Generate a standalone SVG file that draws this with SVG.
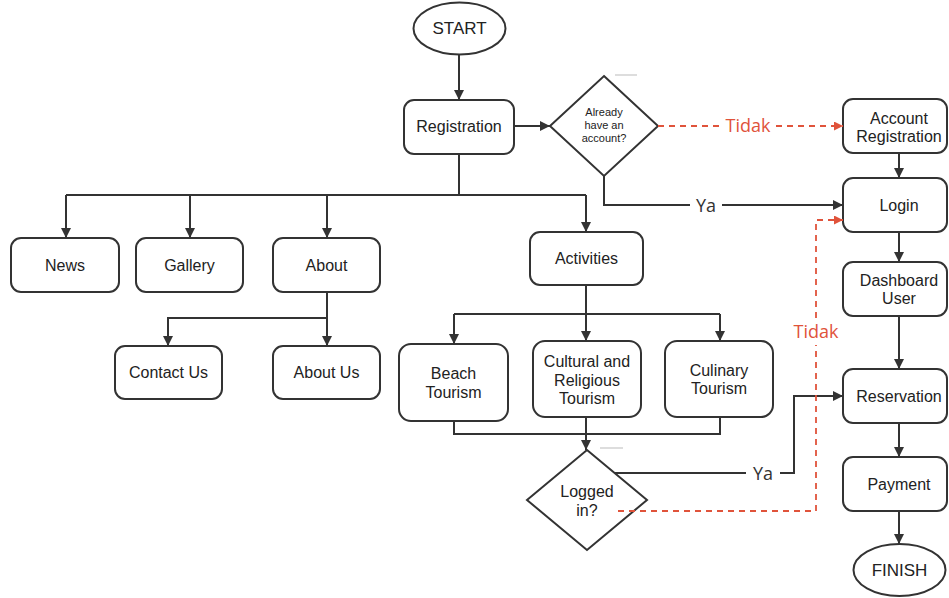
<svg xmlns="http://www.w3.org/2000/svg" width="949" height="598" viewBox="0 0 949 598">
<style>
.box{fill:#fff;stroke:#333;stroke-width:2}
.t{font-family:"Liberation Sans",Arial,sans-serif;font-size:16px;fill:#222;text-anchor:middle}
.s{font-size:11px}
.ln{fill:none;stroke:#333;stroke-width:2}
.rd{fill:none;stroke:#e0533b;stroke-width:1.8;stroke-dasharray:6,5}
.lbl{font-family:"Open Sans","Liberation Sans",sans-serif;font-size:18px;text-anchor:middle}
.red{fill:#e0533b}
.ya{fill:#333}
.art{stroke:#bbb;stroke-width:1}
</style>
<defs>
<marker id="a" markerUnits="userSpaceOnUse" markerWidth="11" markerHeight="11" refX="10" refY="5" orient="auto"><path d="M0,0 L10,5 L0,10 z" fill="#333"/></marker>
<marker id="r" markerUnits="userSpaceOnUse" markerWidth="10" markerHeight="10" refX="9" refY="4.5" orient="auto"><path d="M0,0 L9,4.5 L0,9 z" fill="#e0533b"/></marker>
</defs>
<g id="start"><ellipse class="box" cx="459.5" cy="28.5" rx="46" ry="26"/><text class="t" x="459.5" y="34" style="font-size:17px">START</text></g>
<g id="registration"><rect class="box" x="404" y="100" width="110" height="54" rx="10"/><text class="t" x="459" y="132">Registration</text></g>
<g id="already"><path class="box" d="M604,76 L658,126 L604,176 L550,126 z"/><text class="t s" x="604" y="116">Already</text><text class="t s" x="604" y="129">have an</text><text class="t s" x="604" y="142">account?</text></g>
<g id="account-registration"><rect class="box" x="843" y="99" width="104" height="54" rx="10"/><text class="t" x="899" y="124">Account</text><text class="t" x="899" y="142">Registration</text></g>
<g id="login"><rect class="box" x="843" y="178" width="104" height="54" rx="10"/><text class="t" x="899" y="211">Login</text></g>
<g id="dashboard"><rect class="box" x="843" y="262" width="104" height="54" rx="10"/><text class="t" x="899" y="286">Dashboard</text><text class="t" x="899" y="304">User</text></g>
<g id="reservation"><rect class="box" x="843" y="369" width="104" height="54" rx="10"/><text class="t" x="899" y="402">Reservation</text></g>
<g id="payment"><rect class="box" x="843" y="457" width="104" height="54" rx="10"/><text class="t" x="899" y="490">Payment</text></g>
<g id="finish"><ellipse class="box" cx="899.5" cy="570" rx="46" ry="26"/><text class="t" x="899.5" y="576" style="font-size:17px">FINISH</text></g>
<g id="news"><rect class="box" x="11" y="238" width="108" height="54" rx="10"/><text class="t" x="65" y="271">News</text></g>
<g id="gallery"><rect class="box" x="136" y="238" width="107" height="54" rx="10"/><text class="t" x="189.5" y="271">Gallery</text></g>
<g id="about"><rect class="box" x="273" y="238" width="107" height="54" rx="10"/><text class="t" x="326.5" y="271">About</text></g>
<g id="contact-us"><rect class="box" x="115" y="346" width="107" height="53" rx="10"/><text class="t" x="168.5" y="378">Contact Us</text></g>
<g id="about-us"><rect class="box" x="273" y="346" width="107" height="53" rx="10"/><text class="t" x="326.5" y="378">About Us</text></g>
<g id="activities"><rect class="box" x="530" y="232" width="113" height="53" rx="10"/><text class="t" x="586.5" y="264">Activities</text></g>
<g id="beach"><rect class="box" x="399" y="344" width="109" height="77" rx="12"/><text class="t" x="453.5" y="379">Beach</text><text class="t" x="453.5" y="398">Tourism</text></g>
<g id="cultural"><rect class="box" x="533" y="341" width="108" height="76" rx="12"/><text class="t" x="587" y="367">Cultural and</text><text class="t" x="587" y="386">Religious</text><text class="t" x="587" y="404">Tourism</text></g>
<g id="culinary"><rect class="box" x="665" y="341" width="108" height="76" rx="12"/><text class="t" x="719" y="376">Culinary</text><text class="t" x="719" y="394">Tourism</text></g>
<g id="logged-in"><path class="box" d="M587,450 L647,500 L587,550 L527,500 z"/><text class="t" x="587" y="497">Logged</text><text class="t" x="587" y="516">in?</text></g>
<g id="connectors">
<path class="ln" d="M459,55 V100" marker-end="url(#a)"/>
<path class="ln" d="M514,126 H550" marker-end="url(#a)"/>
<path class="rd" d="M658,126 H722"/>
<path class="rd" d="M776,126 H843" marker-end="url(#r)"/>
<path class="ln" d="M604,176 V205 H690"/>
<path class="ln" d="M722,205 H843" marker-end="url(#a)"/>
<path class="ln" d="M899,153 V178" marker-end="url(#a)"/>
<path class="ln" d="M899,232 V262" marker-end="url(#a)"/>
<path class="ln" d="M899,316 V369" marker-end="url(#a)"/>
<path class="ln" d="M899,423 V457" marker-end="url(#a)"/>
<path class="ln" d="M899,511 V544" marker-end="url(#a)"/>
<path class="ln" d="M459,154 V195"/>
<path class="ln" d="M66,195 H586"/>
<path class="ln" d="M66,195 V238" marker-end="url(#a)"/>
<path class="ln" d="M190,195 V238" marker-end="url(#a)"/>
<path class="ln" d="M327,195 V238" marker-end="url(#a)"/>
<path class="ln" d="M586,195 V232" marker-end="url(#a)"/>
<path class="ln" d="M327,292 V346" marker-end="url(#a)"/>
<path class="ln" d="M327,318 H168 V346" marker-end="url(#a)"/>
<path class="ln" d="M586,285 V341" marker-end="url(#a)"/>
<path class="ln" d="M454,314 H720"/>
<path class="ln" d="M454,314 V344" marker-end="url(#a)"/>
<path class="ln" d="M720,314 V341" marker-end="url(#a)"/>
<path class="ln" d="M454,421 V434 H720 V417"/>
<path class="ln" d="M586,417 V450" marker-end="url(#a)"/>
<path class="ln" d="M615,473 H746"/>
<path class="ln" d="M780,473 H794 V396 H843" marker-end="url(#a)"/>
<path class="rd" d="M618,511 H816 V345"/>
<path class="rd" d="M816,318 V220 H843" marker-end="url(#r)"/>
<line class="art" x1="615" y1="75" x2="637" y2="75"/>
<line class="art" x1="600" y1="448" x2="623" y2="448"/>
<text class="lbl red" x="748" y="132">Tidak</text>
<text class="lbl red" x="816" y="338">Tidak</text>
<text class="lbl ya" x="706" y="212">Ya</text>
<text class="lbl ya" x="763" y="480">Ya</text>
</g>
</svg>
